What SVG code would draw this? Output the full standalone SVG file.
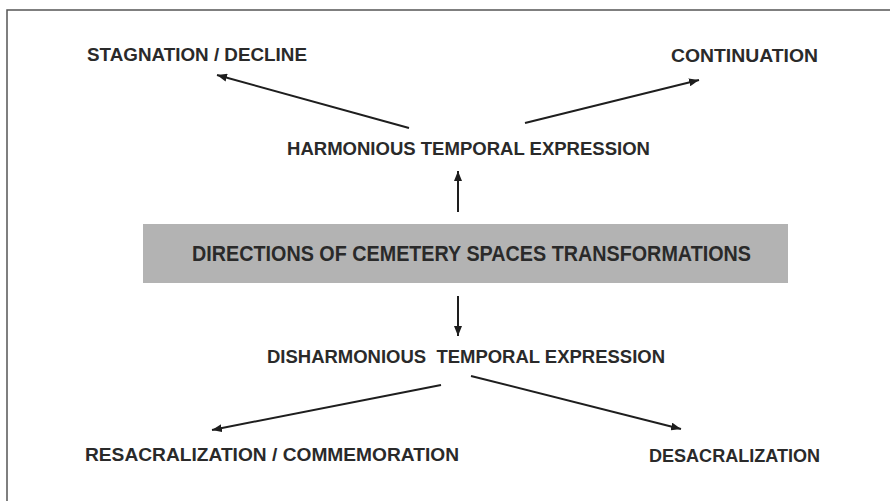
<svg xmlns="http://www.w3.org/2000/svg" width="890" height="501" viewBox="0 0 890 501">
<defs>
<marker id="ah" viewBox="0 0 10 8" refX="10" refY="4" markerWidth="10" markerHeight="8" markerUnits="userSpaceOnUse" orient="auto">
<path d="M0,0 L10,4 L0,8 z" fill="#1e1e1e"/>
</marker>
<style>
.t{font-family:"Liberation Sans",Arial,sans-serif;font-weight:bold;fill:#2a2a2a;font-size:18px}
.big{font-size:22px}
.c{stroke:#1e1e1e;stroke-width:2;fill:none;marker-end:url(#ah)}
.frame{stroke:#555;stroke-width:1.5;fill:none}
</style>
</defs>
<rect width="890" height="501" fill="#fff"/>
<path class="frame" d="M7,501 V10 H890"/>
<g id="connectors">
<line class="c" x1="409" y1="128" x2="217" y2="75"/>
<line class="c" x1="525" y1="123" x2="699" y2="80"/>
<line class="c" x1="458" y1="212" x2="458" y2="171"/>
<line class="c" x1="458" y1="296" x2="458" y2="336"/>
<line class="c" x1="441" y1="385" x2="212" y2="430"/>
<line class="c" x1="471" y1="376" x2="681" y2="429"/>
</g>
<g id="stagnation"><text class="t" x="87" y="61" textLength="220" lengthAdjust="spacingAndGlyphs">STAGNATION / DECLINE</text></g>
<g id="continuation"><text class="t" x="671" y="62" textLength="147" lengthAdjust="spacingAndGlyphs">CONTINUATION</text></g>
<g id="harmonious"><text class="t" x="287" y="155" textLength="363" lengthAdjust="spacingAndGlyphs">HARMONIOUS TEMPORAL EXPRESSION</text></g>
<g id="directions">
<rect x="143" y="224" width="645" height="59" fill="#b3b3b3"/>
<text class="t big" x="192" y="261" textLength="559" lengthAdjust="spacingAndGlyphs">DIRECTIONS OF CEMETERY SPACES TRANSFORMATIONS</text>
</g>
<g id="disharmonious"><text class="t" x="267" y="363" textLength="398" lengthAdjust="spacingAndGlyphs" xml:space="preserve">DISHARMONIOUS  TEMPORAL EXPRESSION</text></g>
<g id="resacralization"><text class="t" x="85" y="461" textLength="374" lengthAdjust="spacingAndGlyphs">RESACRALIZATION / COMMEMORATION</text></g>
<g id="desacralization"><text class="t" x="649" y="462" textLength="171" lengthAdjust="spacingAndGlyphs">DESACRALIZATION</text></g>
</svg>
